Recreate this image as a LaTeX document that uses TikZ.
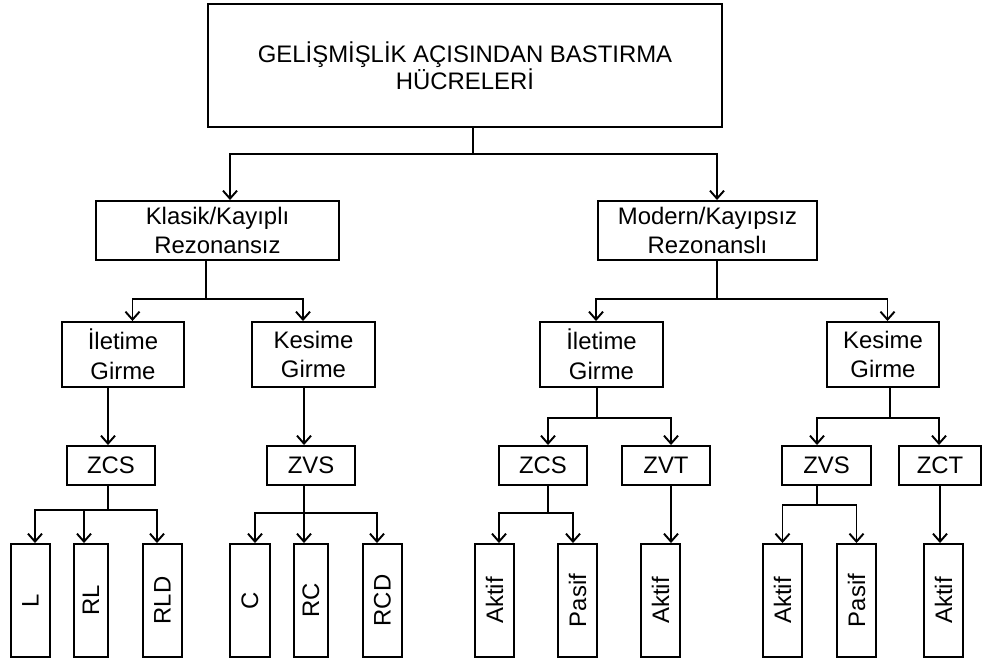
\documentclass[tikz,border=0pt]{standalone}
\usepackage{fontspec}
\setmainfont{Liberation Sans}
\usetikzlibrary{arrows.meta, positioning}

\begin{document}
\begin{tikzpicture}
  [x=0.02cm, y=-0.02cm, line width=1.1pt,
   >={Straight Barb[length=4.5pt, width=8pt]},
   box/.style={rectangle, draw, inner sep=0pt, align=center,
     font=\fontsize{13.6}{16.8}\selectfont},
   leaf/.style={box, rotate=90, minimum width=2.26cm}]
  \useasboundingbox (0,0) rectangle (983,661);

  % boxes
  \node (root) at (465,65.5) [box, minimum width=10.28cm, minimum height=2.46cm,
    font=\fontsize{13.6}{15.4}\selectfont]
    {GELİŞMİŞLİK AÇISINDAN BASTIRMA\\HÜCRELERİ};
  \node (klasik) at (217.5,230.5) [box, minimum width=4.86cm, minimum height=1.18cm]
    {Klasik/Kayıplı\\Rezonansız};
  \node (modern) at (707.5,230.5) [box, minimum width=4.38cm, minimum height=1.18cm]
    {Modern/Kayıpsız\\Rezonanslı};
  \node (il1) at (123,354.5) [box, minimum width=2.44cm, minimum height=1.3cm] {İletime\\Girme};
  \node (ke1) at (313.5,354.5) [box, minimum width=2.46cm, minimum height=1.3cm] {Kesime\\Girme};
  \node (il2) at (601.5,354.5) [box, minimum width=2.46cm, minimum height=1.3cm] {İletime\\Girme};
  \node (ke2) at (883,354.5) [box, minimum width=2.24cm, minimum height=1.3cm] {Kesime\\Girme};
  \foreach \n/\x/\w/\t in {zcs1/111/1.76/ZCS, zvs1/311/1.76/ZVS, zcs2/543/1.76/ZCS,
      zvt/666/1.76/ZVT, zvs2/826.5/1.78/ZVS, zct/940/1.64/ZCT}
    \node (\n) at (\x,465.5) [box, minimum width=\w cm, minimum height=0.78cm] {\t};
  \foreach \n/\x/\w/\t in {l/30.5/0.78/L, rl/91/0.68/RL, rld/162.5/0.78/RLD,
      c/250/0.8/C, rc/311/0.68/RC, rcd/382.5/0.78/RCD,
      ak1/494.5/0.78/Aktif, pa1/577.5/0.78/Pasif, ak2/660.5/0.78/Aktif,
      ak3/782.5/0.78/Aktif, pa2/856.5/0.78/Pasif, ak4/943.5/0.78/Aktif}
    \node (\n) at (\x,600.5) [leaf, minimum height=\w cm] {\t};

  % junctions
  \coordinate (j0) at (473,154);
  \coordinate (j1) at (206,299);
  \coordinate (j2) at (717,299);
  \coordinate (j3) at (108,510);
  \coordinate (j4) at (304,513);
  \coordinate (j5) at (597,418);
  \coordinate (j6) at (548,513);
  \coordinate (j7) at (890,418);
  \coordinate (j8) at (817,505);

  % connectors
  \draw (root.south -| j0) -- (j0);
  \draw [->] (j0) -| ([xshift=0.25cm]klasik.north);
  \draw [->] (j0) -| ([xshift=0.19cm]modern.north);

  \draw (klasik.south -| j1) -- (j1);
  \draw [->] (j1) -| ([xshift=0.19cm]il1.north);
  \draw [->] (j1) -| ([xshift=-0.21cm]ke1.north);
  \draw (modern.south -| j2) -- (j2);
  \draw [->] (j2) -| ([xshift=-0.11cm]il2.north);
  \draw [->] (j2) -| ([xshift=0.09cm]ke2.north);

  \draw [->] (il1.south -| j3) -- (zcs1.north -| j3);
  \draw [->] (ke1.south -| j4) -- (zvs1.north -| j4);
  \draw (il2.south -| j5) -- (j5);
  \draw [->] (j5) -| ([xshift=0.1cm]zcs2.north);
  \draw [->] (j5) -| ([xshift=0.1cm]zvt.north);
  \draw (ke2.south -| j7) -- (j7);
  \draw [->] (j7) -| ([xshift=-0.19cm]zvs2.north);
  \draw [->] (j7) -| ([xshift=-0.02cm]zct.north);

  \draw (zcs1.south -| j3) -- (j3);
  \draw [->] (j3) -| ([xshift=0.09cm]l.east);
  \draw [->] (j3) -| ([xshift=-0.14cm]rl.east);
  \draw [->] (j3) -| ([xshift=-0.11cm]rld.east);
  \draw (zvs1.south -| j4) -- (j4);
  \draw [->] (j4) -| ([xshift=0.1cm]c.east);
  \draw [->] (j4) -| ([xshift=-0.14cm]rc.east);
  \draw [->] (j4) -| ([xshift=-0.11cm]rcd.east);
  \draw (zcs2.south -| j6) -- (j6);
  \draw [->] (j6) -| ([xshift=0.09cm]ak1.east);
  \draw [->] (j6) -| ([xshift=-0.09cm]pa1.east);
  \draw [->] ([xshift=0.1cm]zvt.south) -- ([xshift=0.1cm]zvt.south |- ak2.east);
  \draw (zvs2.south -| j8) -- (j8);
  \draw [->] (j8) -| (ak3.east);
  \draw [->] (j8) -| (pa2.east);
  \draw [->] (zct.south) -- (zct.south |- ak4.east);
\end{tikzpicture}
\end{document}
